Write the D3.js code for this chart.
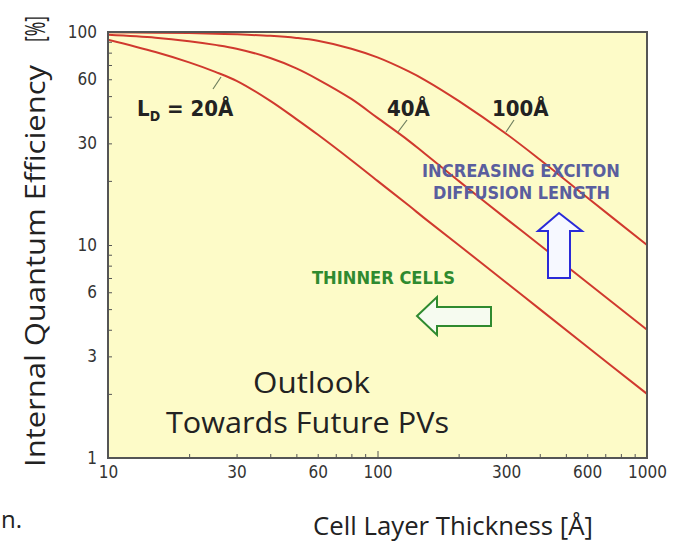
<!DOCTYPE html>
<html>
<head>
<meta charset="utf-8">
<script src="https://cdn.jsdelivr.net/npm/d3@7"></script>
<style>
	body { margin: 0; background: #fff; }
	svg { display: block; }
</style>
</head>
<body>
<div id="my_chart"></div>
<script>
var thickness = [10, 15, 20, 25, 30, 40, 50, 60, 80, 100, 130, 150, 200, 300, 400, 600, 1000];
// internal quantum efficiency [%] for each diffusion length
var iqe20 = [92, 80.5, 72, 65, 59, 47.5, 39, 33, 25, 20, 15.4, 13.3, 10, 6.67, 5, 3.33, 2.0];
var iqe40 = [97, 94, 90.5, 87, 83.5, 75.5, 67.5, 60, 48.5, 39.5, 31, 26.8, 20, 13.3, 10, 6.67, 4.0];
var iqe100 = [99.6, 99.3, 98.8, 98.2, 97.5, 95.9, 93.8, 91, 83.5, 76, 65.5, 59.5, 47.5, 33.3, 25.2, 16.7, 10];

var xTickLabels = [10, 30, 60, 100, 300, 600, 1000];
var yTickLabels = [1, 3, 6, 10, 30, 60, 100];

var width = 685, height = 543;
var margin = {left: 108, top: 32, right: 38, bottom: 85};

var svg = d3.select("#my_chart").append("svg")
	.attr("width", width)
	.attr("height", height);

var x = d3.scaleLog().domain([10, 1000]).range([margin.left, width - margin.right]);
var y = d3.scaleLog().domain([1, 100]).range([height - margin.bottom, margin.top]);

// plot background
svg.append("rect")
	.attr("x", x(10)).attr("y", y(100))
	.attr("width", x(1000) - x(10))
	.attr("height", y(1) - y(100))
	.attr("fill", "#fdfbc8");

// minor ticks 2..9 per decade
var xTicks = [], yTicks = [];
[10, 100].forEach(function(dec) {
	for (var k = 1; k < 10; k++) xTicks.push(dec * k);
});
xTicks.push(1000);
[1, 10].forEach(function(dec) {
	for (var k = 1; k < 10; k++) yTicks.push(dec * k);
});
yTicks.push(100);

var tickFont = "'DejaVu Sans Condensed', 'DejaVu Sans', sans-serif";

var xAxis = svg.append("g")
	.attr("transform", "translate(0," + y(1) + ")")
	.call(d3.axisBottom(x)
		.tickValues(xTicks)
		.tickSize(-4)
		.tickPadding(8)
		.tickFormat(function(d) { return xTickLabels.indexOf(d) >= 0 ? d : ""; }));
xAxis.select(".domain").remove();
xAxis.selectAll("line").attr("stroke", "#555");
xAxis.selectAll(".tick").filter(function(d) { return d === 100; })
	.select("line").attr("y2", -7);
xAxis.selectAll("text")
	.style("font-family", tickFont)
	.style("font-size", "17px")
	.attr("fill", "#333");

var yAxis = svg.append("g")
	.attr("transform", "translate(" + x(10) + ",0)")
	.call(d3.axisLeft(y)
		.tickValues(yTicks)
		.tickSize(-4)
		.tickPadding(11)
		.tickFormat(function(d) { return yTickLabels.indexOf(d) >= 0 ? d : ""; }));
yAxis.select(".domain").remove();
yAxis.selectAll("line").attr("stroke", "#555");
yAxis.selectAll("text")
	.style("font-family", tickFont)
	.style("font-size", "17px")
	.attr("fill", "#333");

// curves
var line = d3.line()
	.x(function(d) { return x(d[0]); })
	.y(function(d) { return y(d[1]); })
	.curve(d3.curveCatmullRom.alpha(0.5));

svg.append("clipPath").attr("id", "plotclip")
	.append("rect")
	.attr("x", x(10)).attr("y", y(100))
	.attr("width", x(1000) - x(10))
	.attr("height", y(1) - y(100));

[iqe20, iqe40, iqe100].forEach(function(series) {
	svg.append("path")
		.datum(thickness.map(function(t, i) { return [t, series[i]]; }))
		.attr("clip-path", "url(#plotclip)")
		.attr("fill", "none")
		.attr("stroke", "#d0392e")
		.attr("stroke-width", 2)
		.attr("d", line);
});

// frame
svg.append("rect")
	.attr("x", x(10)).attr("y", y(100))
	.attr("width", x(1000) - x(10))
	.attr("height", y(1) - y(100))
	.attr("fill", "none")
	.attr("stroke", "#555")
	.attr("stroke-width", 2);

// curve labels and leader lines
var labFont = "'DejaVu Sans Condensed', 'DejaVu Sans', sans-serif";
var leaders = [[213, 89, 221, 77], [398, 132, 407, 120], [506, 132, 514, 120]];
leaders.forEach(function(l) {
	svg.append("line")
		.attr("x1", l[0]).attr("y1", l[1]).attr("x2", l[2]).attr("y2", l[3])
		.attr("stroke", "#6f7f5f").attr("stroke-width", 1.2);
});

var ld = svg.append("text")
	.attr("x", 137).attr("y", 116)
	.style("font-family", labFont)
	.style("font-size", "22px")
	.style("font-weight", "bold")
	.attr("fill", "#222");
ld.append("tspan").text("L");
ld.append("tspan").attr("dy", 5).style("font-size", "14px").text("D");
ld.append("tspan").attr("dy", -5).text(" = 20Å");

svg.append("text").attr("x", 387).attr("y", 116)
	.style("font-family", labFont).style("font-size", "22px").style("font-weight", "bold")
	.attr("fill", "#222").text("40Å");
svg.append("text").attr("x", 492).attr("y", 116)
	.style("font-family", labFont).style("font-size", "22px").style("font-weight", "bold")
	.attr("fill", "#222").text("100Å");

// annotations
svg.append("text").attr("x", 422).attr("y", 177)
	.attr("textLength", 198).attr("lengthAdjust", "spacingAndGlyphs")
	.style("font-family", labFont).style("font-size", "17px").style("font-weight", "bold")
	.attr("fill", "#5a5e9e").text("INCREASING EXCITON");
svg.append("text").attr("x", 433).attr("y", 199)
	.attr("textLength", 177).attr("lengthAdjust", "spacingAndGlyphs")
	.style("font-family", labFont).style("font-size", "17px").style("font-weight", "bold")
	.attr("fill", "#5a5e9e").text("DIFFUSION LENGTH");

svg.append("text").attr("x", 312).attr("y", 284)
	.attr("textLength", 143).attr("lengthAdjust", "spacingAndGlyphs")
	.style("font-family", labFont).style("font-size", "17px").style("font-weight", "bold")
	.attr("fill", "#2f8a2f").text("THINNER CELLS");

// up arrow (blue)
svg.append("path")
	.attr("d", "M559,213 L582,231 L570,231 L570,278 L548,278 L548,231 L538,231 Z")
	.attr("fill", "#f6f8ff").attr("stroke", "#2a2ad8").attr("stroke-width", 2);
// left arrow (green)
svg.append("path")
	.attr("d", "M417,316 L437,297 L437,307 L491,307 L491,326 L437,326 L437,335 Z")
	.attr("fill", "#f6fbf0").attr("stroke", "#2f8a2f").attr("stroke-width", 2);

var titleFont = "'Open Sans', 'DejaVu Sans', sans-serif";
svg.append("text").attr("x", 253).attr("y", 393)
	.attr("textLength", 117).attr("lengthAdjust", "spacingAndGlyphs")
	.style("font-family", titleFont).style("font-size", "29px")
	.attr("fill", "#222").text("Outlook");
svg.append("text").attr("x", 166).attr("y", 433)
	.attr("textLength", 283).attr("lengthAdjust", "spacingAndGlyphs")
	.style("font-family", titleFont).style("font-size", "29px")
	.attr("fill", "#222").text("Towards Future PVs");

// axis titles
svg.append("text").attr("x", 313).attr("y", 535)
	.attr("textLength", 280).attr("lengthAdjust", "spacingAndGlyphs")
	.style("font-family", titleFont).style("font-size", "26px")
	.attr("fill", "#222").text("Cell Layer Thickness [Å]");

svg.append("text")
	.attr("transform", "translate(45,467) rotate(-90)")
	.attr("textLength", 402).attr("lengthAdjust", "spacingAndGlyphs")
	.style("font-family", titleFont).style("font-size", "27px")
	.attr("fill", "#222").text("Internal Quantum Efficiency");
svg.append("text")
	.attr("transform", "translate(45,42) rotate(-90)")
	.attr("textLength", 26).attr("lengthAdjust", "spacingAndGlyphs")
	.style("font-family", titleFont).style("font-size", "27px")
	.attr("fill", "#222").text("[%]");

// cut-off text from surrounding page
svg.append("text").attr("x", 1).attr("y", 528)
	.style("font-family", titleFont).style("font-size", "24px")
	.attr("fill", "#222").text("n.");
</script>
</body>
</html>
